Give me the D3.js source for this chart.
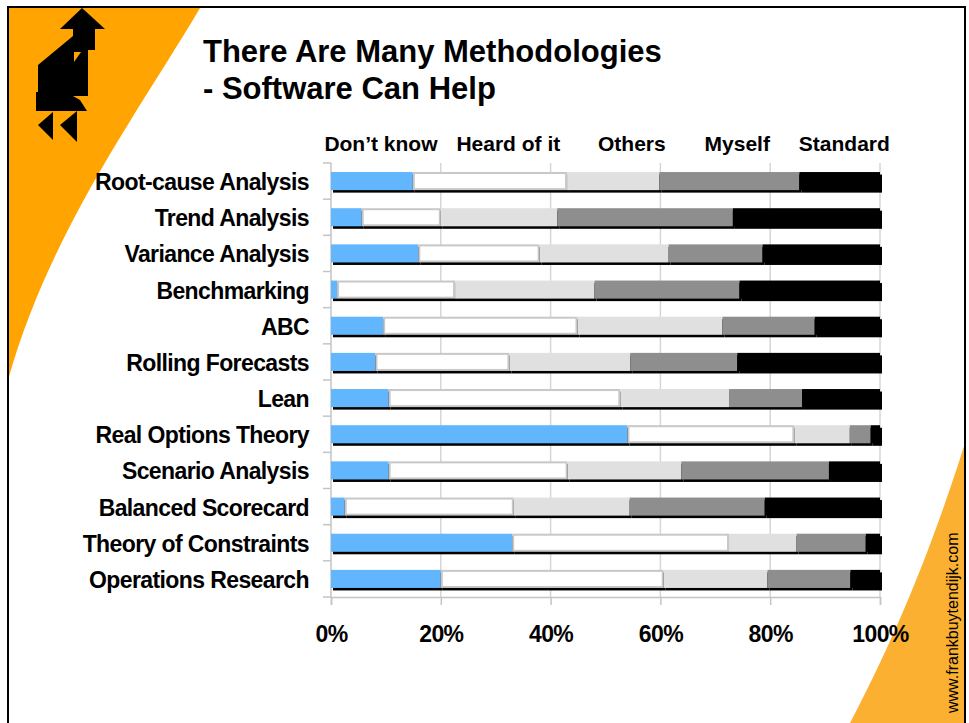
<!DOCTYPE html>
<html>
<head>
<meta charset="utf-8">
<script src="https://cdn.jsdelivr.net/npm/d3@7"></script>
<style>
  html, body { margin: 0; padding: 0; background: #fff; }
  svg { display: block; font-family: "Liberation Sans", Arial, sans-serif; }
</style>
</head>
<body>
<svg id="chart" width="969" height="723"></svg>
<script>
// Methodologies, top to bottom
const categories = [
  "Root-cause Analysis", "Trend Analysis", "Variance Analysis", "Benchmarking",
  "ABC", "Rolling Forecasts", "Lean", "Real Options Theory",
  "Scenario Analysis", "Balanced Scorecard", "Theory of Constraints", "Operations Research"
];

// Series labels (column headers over the bars)
const seriesNames = ["Don’t know", "Heard of it", "Others", "Myself", "Standard"];

// Share of respondents per methodology (%)
const dontKnow  = [14.9,  5.6, 15.9,  1.1,  9.5,  8.1, 10.5, 54.0, 10.5,  2.5, 33.0, 20.0];
const heardOfIt = [28.1, 14.4, 22.1, 21.5, 35.4, 24.4, 42.2, 30.4, 32.6, 30.8, 39.5, 40.6];
const others    = [16.8, 21.2, 23.5, 25.4, 26.4, 22.0, 19.8, 10.1, 20.7, 21.1, 12.3, 18.9];
const myself    = [25.5, 32.0, 17.1, 26.4, 16.8, 19.5, 13.3,  3.8, 26.9, 24.6, 12.6, 15.1];
const standard  = [14.7, 26.8, 21.4, 25.6, 11.9, 26.0, 14.2,  1.7,  9.3, 21.0,  2.6,  5.4];

// Axis ticks
const tickValues = [0, 20, 40, 60, 80, 100];

const title = ["There Are Many Methodologies", "- Software Can Help"];
const siteText = "www.frankbuytendijk.com";

// ---- table for d3.stack ----
const seriesArrays = [dontKnow, heardOfIt, others, myself, standard];
const table = categories.map((c, i) => {
  const row = { category: c };
  seriesNames.forEach((s, k) => { row[s] = seriesArrays[k][i]; });
  return row;
});
const stacked = d3.stack().keys(seriesNames)(table);

const colors = ["#62b6fd", "#ffffff", "#e0e0e0", "#8e8e8e", "#000000"];

const svg = d3.select("#chart");

// ---- slide background ----
svg.append("rect").attr("width", 969).attr("height", 723).attr("fill", "#fff");

// left swoosh
svg.append("path")
  .attr("d", "M8,8 L200,8 C140,110 50,230 8,380 Z")
  .attr("fill", "#ffa400");
// right swoosh
svg.append("path")
  .attr("d", "M966,440 C950,490 915,600 850,723 L966,723 Z")
  .attr("fill", "#fcb031");

// slide frame
svg.append("path")
  .attr("d", "M8,723 L8,7 L965,7 L965,723")
  .attr("fill", "none").attr("stroke", "#000").attr("stroke-width", 2);

// ---- tangram logo ----
const logo = svg.append("g").attr("fill", "#000");
const polys = [
  [[82,8],[105,29],[60,29]],                        // arrow head
  [[73,28],[95,28],[95,50],[73,50]],                 // neck
  [[38,65],[73,36],[88,50],[88,96],[38,96]],         // torso
  [[36,92],[66,92],[80,100],[87,111],[36,111]],      // lower body
  [[38,125],[53,112],[53,140]],                      // rear foot
  [[60,125],[77,111],[77,142]]                       // front foot
];
polys.forEach(p => logo.append("polygon").attr("points", p.map(d => d.join(",")).join(" ")));
svg.append("polygon").attr("points", "74,52 81,52 74,62").attr("fill", "#ffa400");

// ---- title ----
const titleG = svg.append("g").attr("font-weight", "bold").attr("font-size", 31).attr("fill", "#000");
titleG.append("text").attr("x", 203).attr("y", 62).text(title[0]);
titleG.append("text").attr("x", 203).attr("y", 99).text(title[1]);

// ---- scales ----
const x = d3.scaleLinear().domain([0, 100]).range([331, 880]);
const y = d3.scaleBand().domain(categories).range([163, 597])
  .paddingInner(0.5).paddingOuter(0.25);
const step = y.step();
const plotTop = 163, plotBottom = 597;

// gridlines
svg.append("g")
  .selectAll("line")
  .data(tickValues.slice(1))
  .join("line")
  .attr("x1", d => x(d)).attr("x2", d => x(d))
  .attr("y1", plotTop).attr("y2", plotBottom)
  .attr("stroke", "#d6d6d6").attr("stroke-width", 1.5);

// x axis
const xAxis = svg.append("g")
  .attr("transform", `translate(0,${plotBottom})`)
  .call(d3.axisBottom(x).tickValues(tickValues).tickSize(8).tickFormat(d => d + "%"));
xAxis.select(".domain").attr("stroke", "#c4c4c4").attr("stroke-width", 1.5);
xAxis.selectAll(".tick line").attr("stroke", "#c4c4c4").attr("stroke-width", 1.5);
xAxis.selectAll(".tick text")
  .attr("y", 0).attr("dy", 45)
  .attr("font-family", "'Liberation Sans', Arial, sans-serif")
  .attr("font-size", 23).attr("font-weight", "bold")
  .attr("letter-spacing", "-0.6px").attr("fill", "#000");

// y axis: line with ticks at band edges
const yAxisG = svg.append("g").attr("stroke", "#c4c4c4").attr("stroke-width", 1.5);
yAxisG.append("line").attr("x1", x(0)).attr("x2", x(0)).attr("y1", plotTop).attr("y2", plotBottom);
yAxisG.selectAll("line.tk")
  .data(d3.range(categories.length + 1))
  .join("line").attr("class", "tk")
  .attr("x1", x(0) - 8).attr("x2", x(0))
  .attr("y1", i => plotTop + i * step).attr("y2", i => plotTop + i * step);

// category labels
svg.append("g")
  .selectAll("text")
  .data(categories)
  .join("text")
  .attr("x", 309)
  .attr("y", d => y(d) + y.bandwidth() / 2 + 1)
  .attr("dy", "0.35em")
  .attr("text-anchor", "end")
  .attr("font-size", 23).attr("font-weight", "bold")
  .attr("letter-spacing", "-0.6px")
  .text(d => d);

// series headers
const headerAt = [9.1, 32.3, 54.8, 74.0, 93.5];
svg.append("g")
  .selectAll("text")
  .data(seriesNames)
  .join("text")
  .attr("x", (d, i) => x(headerAt[i]))
  .attr("y", 151)
  .attr("text-anchor", "middle")
  .attr("font-size", 21).attr("font-weight", "bold")
  .text(d => d);

// ---- stacked bars with drop shadow ----
const bh = y.bandwidth();
const rows = svg.append("g");
categories.forEach((cat, i) => {
  const g = rows.append("g");
  stacked.forEach((layer, k) => {
    const seg = layer[i];
    const x0 = x(seg[0]), x1 = x(seg[1]);
    const top = y(cat);
    g.append("rect")
      .attr("x", x0 + 2).attr("y", top + 2.5)
      .attr("width", Math.max(0, x1 - x0)).attr("height", bh)
      .attr("fill", "#000");
    const r = g.append("rect")
      .attr("x", x0).attr("y", top)
      .attr("width", Math.max(0, x1 - x0)).attr("height", bh)
      .attr("fill", colors[k]);
    if (k === 1) {
      r.attr("x", x0 + 1).attr("y", top + 1)
        .attr("width", Math.max(0, x1 - x0 - 2)).attr("height", bh - 2)
        .attr("stroke", "#c8c8c8").attr("stroke-width", 2);
    }
  });
});

// ---- site credit ----
svg.append("text")
  .attr("transform", "translate(958,713) rotate(-90)")
  .attr("font-size", 16)
  .attr("fill", "#000")
  .text(siteText);
</script>
</body>
</html>
